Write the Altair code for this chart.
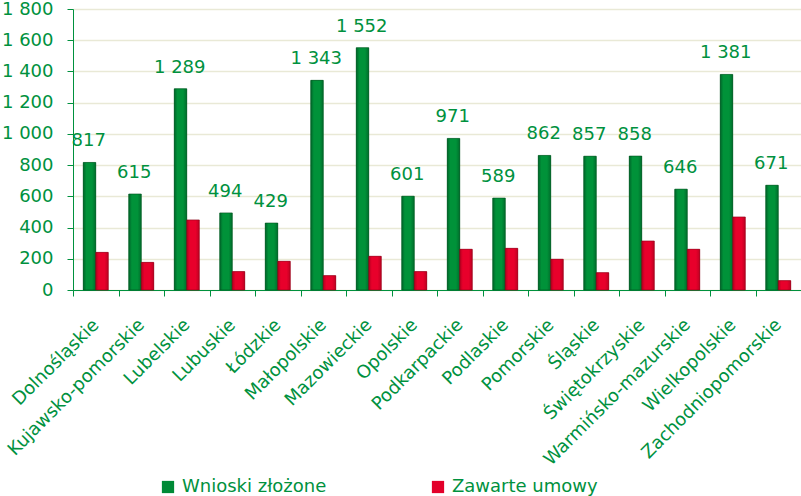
import altair as alt
import pandas as pd

regions = ["Dolnośląskie", "Kujawsko-pomorskie", "Lubelskie", "Lubuskie", "Łódzkie",
           "Małopolskie", "Mazowieckie", "Opolskie", "Podkarpackie", "Podlaskie",
           "Pomorskie", "Śląskie", "Świętokrzyskie", "Warmińsko-mazurskie",
           "Wielkopolskie", "Zachodniopomorskie"]
wnioski = [817, 615, 1289, 494, 429, 1343, 1552, 601, 971, 589, 862, 857, 858, 646, 1381, 671]
umowy = [241, 177, 449, 118, 184, 92, 216, 118, 261, 267, 197, 111, 314, 261, 468, 60]
series = ["Wnioski złożone", "Zawarte umowy"]
colors = ["#008a36", "#e3002a"]

rows = []
for r, w, u in zip(regions, wnioski, umowy):
    rows.append({"region": r, "series": series[0], "value": w})
    rows.append({"region": r, "series": series[1], "value": u})
df = pd.DataFrame(rows)
lab = pd.DataFrame({"region": regions, "value": wnioski})

FONT = "DejaVu Sans"
GREEN_TXT = "#00913e"

x = alt.X("region:N", sort=regions, title=None,
          scale=alt.Scale(paddingInner=0, paddingOuter=0),
          axis=alt.Axis(labelAngle=-45, labelAlign="right", labelBaseline="middle",
                        labelFont=FONT, labelFontSize=18, labelColor=GREEN_TXT,
                        labelPadding=26, tickBand="extent", tickSize=6, ticks=True,
                        tickColor="#00913e", domainColor="#00913e", labelLimit=300,
                        labelOverlap=False, grid=False))

y = alt.Y("value:Q", title=None,
          scale=alt.Scale(domain=[0, 1800], nice=False),
          axis=alt.Axis(values=list(range(0, 1801, 200)),
                        labelExpr="replace(format(datum.value, ','), ',', ' ')",
                        labelFont=FONT, labelFontSize=18, labelColor=GREEN_TXT,
                        labelPadding=14, tickSize=6, tickColor="#00913e",
                        labelOverlap=False,
                        domainColor="#00913e", gridColor="#e9e9d6", gridWidth=1.5))

xoff = alt.XOffset("series:N", sort=series,
                   scale=alt.Scale(paddingInner=0, paddingOuter=0.82))

bars = alt.Chart(df).mark_bar().encode(
    x=x,
    xOffset=xoff,
    y=y,
    color=alt.Color("series:N", sort=series,
                    scale=alt.Scale(domain=series, range=colors),
                    legend=alt.Legend(title=None, orient="none", legendX=86, legendY=469,
                                      direction="horizontal", symbolType="square",
                                      symbolSize=150, symbolStrokeWidth=0,
                                      labelFont=FONT, labelFontSize=18,
                                      labelColor=GREEN_TXT, columnPadding=102,
                                      labelOffset=5)),
)


def grad(c_edge, c_mid, c_right):
    return alt.Gradient(
        gradient="linear", x1=0, x2=1, y1=0, y2=0,
        stops=[alt.GradientStop(offset=0, color=c_edge),
               alt.GradientStop(offset=0.25, color=c_mid),
               alt.GradientStop(offset=0.7, color=c_mid),
               alt.GradientStop(offset=1, color=c_right)])


green_over = alt.Chart(df).transform_filter(
    alt.datum.series == series[0]
).mark_bar(color=grad("#00652a", "#009239", "#006e2c"), stroke="#00521f",
           strokeWidth=0.6).encode(x=x, xOffset=xoff, y=y)

red_over = alt.Chart(df).transform_filter(
    alt.datum.series == series[1]
).mark_bar(color=grad("#b4001f", "#e8002b", "#c00022"), stroke="#8a0016",
           strokeWidth=0.6).encode(x=x, xOffset=xoff, y=y)

text = alt.Chart(lab).transform_calculate(
    txt="replace(format(datum.value, ','), ',', ' ')"
).mark_text(font=FONT, fontSize=18, color=GREEN_TXT, baseline="bottom", dy=-12, dx=-7).encode(
    x=x,
    y=y,
    text="txt:N",
)

chart = alt.layer(bars, green_over, red_over, text).properties(
    width=728, height=281,
    autosize=alt.AutoSizeParams(type="none"),
    padding={"left": 73, "top": 9, "right": 0, "bottom": 206},
).configure_view(stroke=None)

chart.save("out.html", embed_options={"renderer": "svg", "actions": False})
